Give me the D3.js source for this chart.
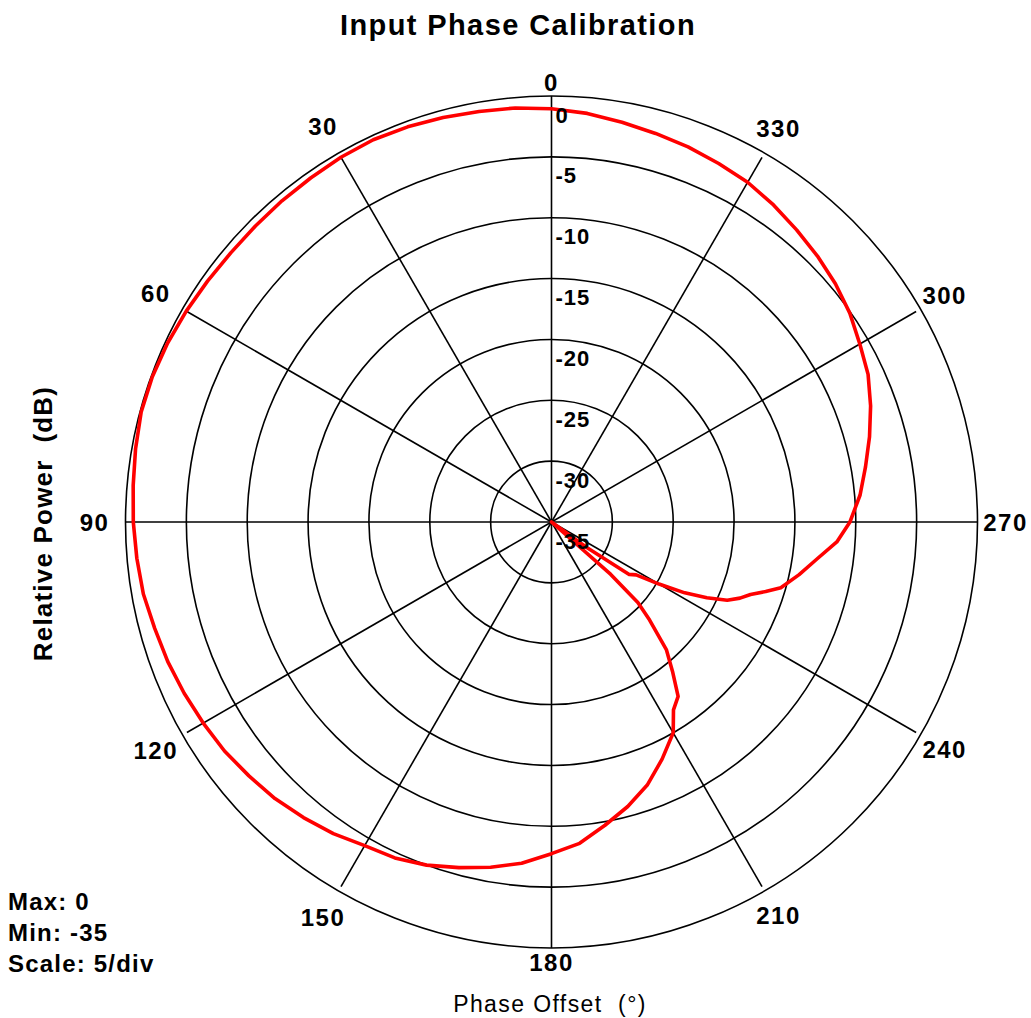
<!DOCTYPE html>
<html><head><meta charset="utf-8">
<script src="https://cdn.jsdelivr.net/npm/d3@7/dist/d3.min.js"></script>
<style>
body{margin:0;background:#fff}
svg{display:block}
text{font-family:"Liberation Sans",Arial,Helvetica,sans-serif;fill:#000;white-space:pre}
</style>
</head><body>
<script>
// ---- data ----
const phaseDeg = [0,5,10,15,20,25,30,35,40,45,50,55,60,65,70,75,80,85,90,95,100,105,110,115,120,125,130,135,140,145,150,155,160,165,170,175,180,185,190,195,200,205,210,213,216,219,222,225,227,228.5,230,232,234,236,238,240,242,244,246,248,250,252,254,258,262,266,270,275,280,285,290,295,300,305,310,315,320,325,330,335,340,345,350,355];
const powerDb = [-1.05,-0.85,-0.75,-0.6,-0.45,-0.35,-0.4,-0.5,-0.55,-0.6,-0.6,-0.5,-0.35,-0.2,-0.1,-0.1,-0.3,-0.5,-0.64,-0.8,-0.95,-1.25,-1.45,-1.7,-1.96,-2.2,-2.55,-2.87,-3.3,-3.75,-4.3,-4.55,-5.0,-5.6,-6.2,-6.85,-7.75,-8.5,-9.7,-10.8,-12.0,-13.5,-15.0,-16.6,-17.3,-19.2,-20.9,-23.6,-25.3,-28.5,-35,-35,-31.5,-27.3,-26.8,-24.8,-22.6,-20.8,-19.2,-18.3,-17.6,-16.5,-15.4,-14.2,-13.0,-11.5,-10.48,-9.55,-8.8,-7.95,-7.1,-6.3,-5.75,-5.08,-4.55,-4.1,-3.67,-3.2,-2.77,-2.5,-2.2,-1.95,-1.65,-1.3];
const ringValues = [0,-5,-10,-15,-20,-25,-30,-35];
const ringLabels = ["0","-5","-10","-15","-20","-25","-30","-35"];
const spokeAngles = [0,30,60,90,120,150,180,210,240,270,300,330];
const angleLabels = ["0","30","60","90","120","150","180","210","240","270","300","330"];
const statLabels = ["Max: 0","Min: -35","Scale: 5/div"];
const titleText = "Input Phase Calibration";
const yTitle = "Relative Power  (dB)";
const xTitle = "Phase Offset  (°)";

// ---- layout ----
const W = 1031, H = 1018;
const cx = 551.5, cy = 522, R = 426;

const svg = d3.select("body").append("svg").attr("width", W).attr("height", H);

const r = d3.scaleLinear().domain([-35, 0]).range([0, R]).clamp(true);
const rad = a => a * Math.PI / 180;

const g = svg.append("g").attr("transform", `translate(${cx},${cy})`);

// rings
g.selectAll("circle.ring").data(ringValues.filter(v => v > -35)).join("circle")
  .attr("class", "ring").attr("r", d => r(d))
  .attr("fill", "none").attr("stroke", "#000").attr("stroke-width", 1.6);

// spokes
g.selectAll("line.spoke").data(spokeAngles).join("line")
  .attr("class", "spoke")
  .attr("x1", 0).attr("y1", 0)
  .attr("x2", d => -(d % 90 === 0 ? R : R - 5) * Math.sin(rad(d)))
  .attr("y2", d => -(d % 90 === 0 ? R : R - 5) * Math.cos(rad(d)))
  .attr("stroke", "#000").attr("stroke-width", 1.6);

// data curve
const pts = phaseDeg.map((a, i) => ({a, v: powerDb[i]}));
const line = d3.lineRadial()
  .angle(d => -rad(d.a))
  .radius(d => r(d.v))
  .curve(d3.curveLinearClosed);
g.append("path").datum(pts).attr("d", line)
  .attr("fill", "none").attr("stroke", "#ff0000").attr("stroke-width", 3.6)
  .attr("stroke-linejoin", "round");

// ring labels
g.selectAll("text.rl").data(ringValues).join("text")
  .attr("class", "rl")
  .attr("x", 4).attr("y", d => -r(d) + 26.5)
  .attr("font-size", 22).attr("font-weight", "bold").attr("letter-spacing", "1px")
  .text((d, i) => ringLabels[i]);

// angle labels
g.selectAll("text.al").data(spokeAngles).join("text")
  .attr("class", "al")
  .each(function(d, i) {
    const s = Math.sin(rad(d));
    const rl = R + 14 + 17 * Math.min(1, 2 * Math.abs(s)) - (s < 0 ? 3 : 0);
    d3.select(this)
      .attr("x", -rl * Math.sin(rad(d)))
      .attr("y", -rl * Math.cos(rad(d)))
      .text(angleLabels[i]);
  })
  .attr("text-anchor", "middle").attr("dominant-baseline", "central")
  .attr("font-size", 24).attr("font-weight", "bold").attr("letter-spacing", "1.5px");

// title
svg.append("text").attr("x", 518).attr("y", 35)
  .attr("text-anchor", "middle").attr("font-size", 29).attr("font-weight", "bold")
  .attr("letter-spacing", "1.4px").text(titleText);

// y title
svg.append("text").attr("transform", "translate(51.5,523.5) rotate(-90)")
  .attr("text-anchor", "middle").attr("font-size", 26).attr("font-weight", "bold")
  .attr("letter-spacing", "1.2px").text(yTitle);

// x title
svg.append("text").attr("x", 550).attr("y", 1011.5)
  .attr("text-anchor", "middle").attr("font-size", 23)
  .attr("letter-spacing", "1.4px").text(xTitle);

// stats
svg.selectAll("text.st").data(statLabels).join("text")
  .attr("class", "st").attr("x", 8).attr("y", (d, i) => 910 + i * 31)
  .attr("font-size", 24).attr("font-weight", "bold").attr("letter-spacing", "1.2px")
  .text(d => d);
</script>
</body></html>
